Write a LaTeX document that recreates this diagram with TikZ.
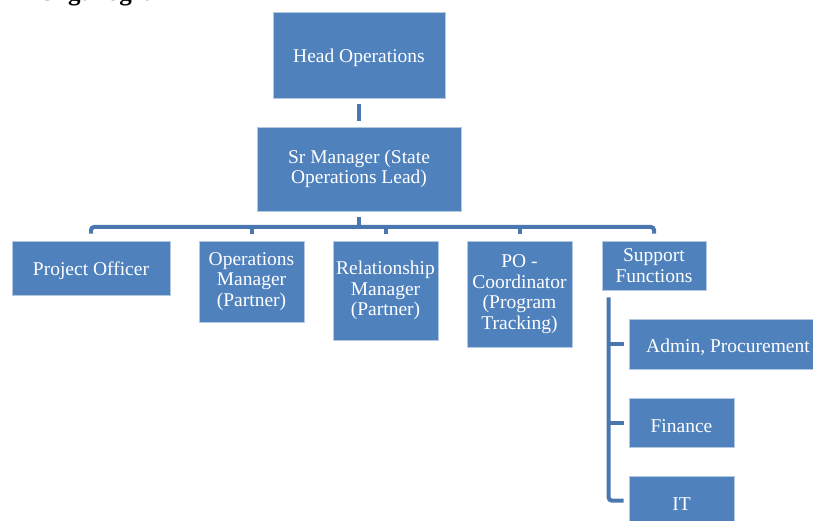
\documentclass[tikz,border=0pt]{standalone}
\usepackage{fontspec}
\setmainfont{Liberation Serif}
\definecolor{boxblue}{HTML}{4F81BD}
\definecolor{linkblue}{HTML}{4A77B0}
\definecolor{edgeblue}{HTML}{B4C8E2}

\begin{document}
\begin{tikzpicture}[x=1pt, y=-1pt,
  every node/.style={font=\fontsize{19.5}{20.5}\selectfont},
  post/.style={draw=edgeblue, line width=0.8pt, fill=boxblue, text=white, align=center, inner sep=0pt,
    execute at begin node={\rule{0pt}{1em}}},
  link/.style={draw=linkblue, line width=4pt}]
  \useasboundingbox (0,0) rectangle (813,521);
  \clip (0,0) rectangle (813,521);
  % title, cut off at the top
  \node[anchor=base west, font=\bfseries\fontsize{25}{30}\selectfont] (title) at (34,0.5) {Organogram};
  % top levels
  \node[post, minimum width=172pt, minimum height=86pt] (head) at (359,55) {Head Operations};
  \node[post, minimum width=204pt, minimum height=84pt] (sr) at (359,169) {Sr Manager (State\\Operations Lead)};
  % second row
  \node[post, minimum width=158pt, minimum height=54pt] (po) at (91,268) {Project Officer};
  \node[post, minimum width=105pt, minimum height=81pt] (om) at (251.5,281.5) {Operations\\Manager\\(Partner)};
  \node[post, minimum width=105pt, minimum height=99pt] (rm) at (385.5,290.5) {Relationship\\Manager\\(Partner)};
  \node[post, minimum width=105pt, minimum height=106pt] (poc) at (519.5,294) {PO -\\Coordinator\\(Program\\Tracking)};
  \node[post, minimum width=104pt, minimum height=49pt] (sf) at (654,265.5) {Support\\Functions};
  % support functions
  \node[post, minimum width=198pt, minimum height=50pt] (admin) at (728,344) {Admin, Procurement};
  \node[post, minimum width=105pt, minimum height=49pt] (fin) at (681.5,422.5) {Finance};
  \node[post, minimum width=105pt, minimum height=49pt] (it) at (681.5,500.5) {IT};
  % connectors
  \draw[link] ([yshift=-6pt]head.south) -- ([yshift=6pt]sr.north);
  \coordinate (bus) at (359,227);
  \draw[link] ([yshift=-6pt]sr.south) -- (bus);
  \draw[link, rounded corners=3pt] ([yshift=7pt]po.north) |- (bus) -| ([yshift=7pt]sf.north);
  \foreach \n in {om,rm,poc}
    \draw[link] ([yshift=7pt]\n.north) -- (\n.north |- bus);
  \coordinate (spine) at ([xshift=7pt, yshift=-7pt]sf.south west);
  \draw[link, rounded corners=3pt] (spine) |- ([xshift=-5pt]it.west);
  \foreach \n in {admin,fin}
    \draw[link] (spine |- \n.west) -- ([xshift=-5pt]\n.west);
\end{tikzpicture}
\end{document}
